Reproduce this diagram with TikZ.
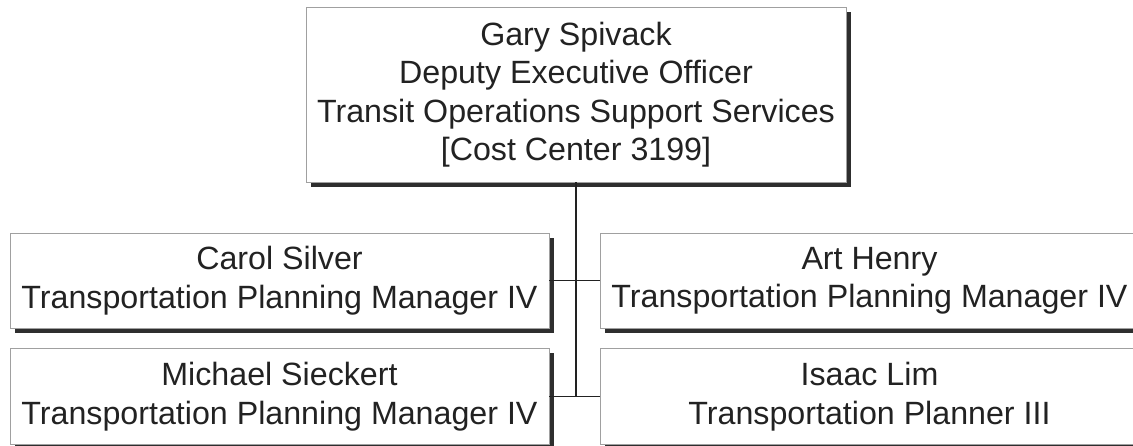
\documentclass[tikz,border=0pt]{standalone}
\usepackage{fontspec}
\setmainfont{Liberation Sans}
\usetikzlibrary{shadows}
\definecolor{ink}{HTML}{222222}
\definecolor{rim}{HTML}{A0A0A0}
\definecolor{shade}{HTML}{2E2E2E}
\begin{document}
\begin{tikzpicture}[x=1pt,y=1pt,
  orgbox/.style={draw=rim, line width=0.8pt, fill=white, rectangle, align=center,
    inner sep=0pt, text=ink, font=\fontsize{32.2}{38.4}\selectfont,
    drop shadow={shadow xshift=5pt, shadow yshift=-5pt, fill=shade, opacity=1}},
  link/.style={draw=ink, line width=1.3pt}]
\useasboundingbox (0,0) rectangle (1133,-446);
\node[orgbox, minimum width=540pt, minimum height=175pt] (top) at (576,-94.5)
  {Gary Spivack\\Deputy Executive Officer\\Transit Operations Support Services\\{[}Cost Center 3199{]}};
\node[orgbox, minimum width=539pt, minimum height=95pt] (carol) at (279.5,-280.5)
  {Carol Silver\\Transportation Planning Manager IV};
\node[orgbox, minimum width=539pt, minimum height=96pt] (michael) at (279.5,-396.5)
  {Michael Sieckert\\Transportation Planning Manager IV};
\node[orgbox, minimum width=539pt, minimum height=95pt] (art) at (869.5,-280.5)
  {Art Henry\\Transportation Planning Manager IV};
\node[orgbox, minimum width=539pt, minimum height=96pt] (isaac) at (869.5,-396.5)
  {Isaac Lim\\Transportation Planner III};
\coordinate (trunk) at (top.south |- michael.east);
\draw[link] (top.south) -- (trunk);
\draw[link] (carol.east) -- (art.west);
\draw[link] (michael.east) -- (isaac.west);
\end{tikzpicture}
\end{document}
